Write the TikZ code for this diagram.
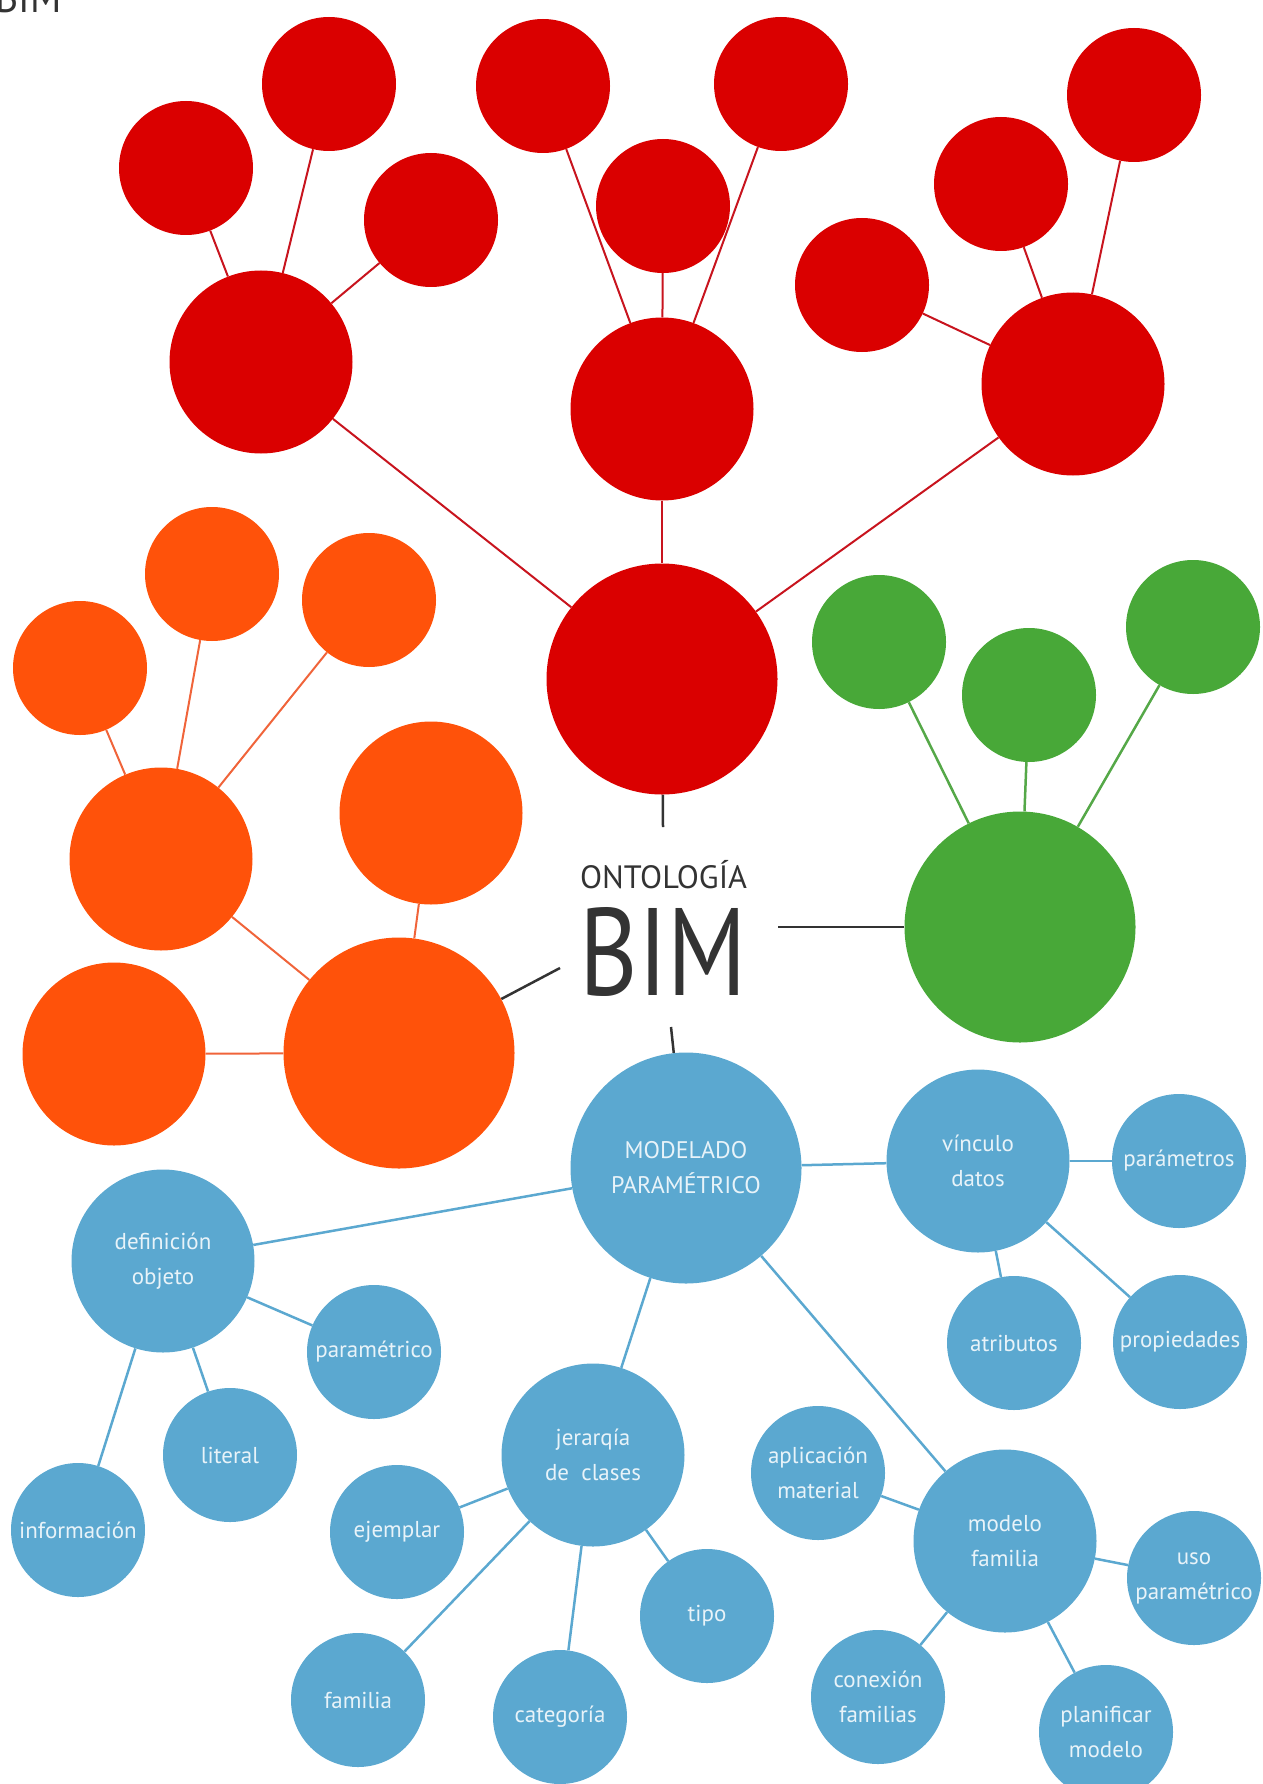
\documentclass[tikz,border=0pt]{standalone}
\usepackage{fontspec}
\setmainfont{PT Sans}
\usetikzlibrary{backgrounds}
\definecolor{rfill}{HTML}{DA0000}
\definecolor{rline}{HTML}{C8141E}
\definecolor{ofill}{HTML}{FF520A}
\definecolor{oline}{HTML}{F0643A}
\definecolor{gfill}{HTML}{48A838}
\definecolor{gline}{HTML}{55A848}
\definecolor{bfill}{HTML}{5BA8D0}
\definecolor{lbltext}{HTML}{E8F3F9}
\definecolor{dark}{HTML}{333333}
\begin{document}
\begin{tikzpicture}[x=1pt,y=-1pt,
  bub/.style={circle,inner sep=0pt,draw=none},
  small/.style={bub,minimum size=134pt},
  big/.style={bub,minimum size=183pt},
  huge/.style={bub,minimum size=231pt},
  red/.style={fill=rfill},
  org/.style={fill=ofill},
  grn/.style={fill=gfill},
  blu/.style={fill=bfill,text=lbltext,align=center,font=\fontsize{23}{35}\selectfont},
  redlink/.style={draw=rline,line width=2pt},
  orglink/.style={draw=oline,line width=2pt},
  grnlink/.style={draw=gline,line width=2.5pt},
  blulink/.style={draw=bfill,line width=2.5pt},
  hub/.style={draw=dark,line width=2.5pt},
  ctext/.style={inner sep=0pt,text=dark}
]
\useasboundingbox (0,0) rectangle (1262,1784);
\begin{scope}
\clip (0,0) rectangle (1262,1784);
\node[ctext,anchor=base east] (corner) at (62,13) {\resizebox{66pt}{31pt}{BIM}};
\end{scope}

% central title
\node[ctext,anchor=base] (onto) at (663.5,888) {\resizebox{167pt}{!}{\fontsize{33}{33}\selectfont ONTOLOG\'IA}};
\node[ctext,anchor=base] (bim) at (663.5,995) {\resizebox{167pt}{88pt}{BIM}};
\coordinate (ctop) at (663,827);
\coordinate (cright) at (778,927);
\coordinate (cleft) at (560,968);
\coordinate (cbot) at (671,1027);

% red
\node[huge,red] (rmain) at (662,679) {};
\node[big,red] (rl) at (261,362) {};
\node[big,red] (rm) at (662,409) {};
\node[big,red] (rr) at (1073,384) {};
\node[small,red] (r1) at (186,168) {};
\node[small,red] (r2) at (329,84) {};
\node[small,red] (r3) at (431,220) {};
\node[small,red] (r4) at (543,86) {};
\node[small,red] (r5) at (663,206) {};
\node[small,red] (r6) at (781,84) {};
\node[small,red] (r7) at (862,285) {};
\node[small,red] (r8) at (1001,184) {};
\node[small,red] (r9) at (1134,95) {};

% orange
\node[huge,org] (omain) at (399,1053) {};
\node[big,org] (ol) at (161,859) {};
\node[big,org] (oo) at (431,813) {};
\node[big,org] (obl) at (114,1054) {};
\node[small,org] (o1) at (80,668) {};
\node[small,org] (o2) at (212,574) {};
\node[small,org] (o3) at (369,600) {};

% green
\node[huge,grn] (gmain) at (1020,927) {};
\node[small,grn] (g1) at (879,642) {};
\node[small,grn] (g2) at (1029,695) {};
\node[small,grn] (g3) at (1193,627) {};

% blue
\node[huge,blu,font=\fontsize{24}{35}\selectfont] (bmain) at (686,1168) {MODELADO\\PARAM\'ETRICO};
\node[big,blu] (vd) at (978,1161) {v\'inculo\\datos};
\node[small,blu] (pm) at (1179,1161) {par\'ametros};
\node[small,blu] (atr) at (1014,1343) {atributos};
\node[small,blu] (pr) at (1180,1342) {propiedades};
\node[big,blu] (def) at (163,1261) {definici\'on\\objeto};
\node[small,blu] (par) at (374,1352) {param\'etrico};
\node[small,blu] (lit) at (230,1455) {literal};
\node[small,blu] (inf) at (78,1530) {informaci\'on};
\node[big,blu] (jer) at (593,1455) {jerarq\'ia\\de\ \ clases};
\node[small,blu] (eje) at (397,1532) {ejemplar};
\node[small,blu] (tipo) at (707,1616) {tipo};
\node[small,blu] (fam) at (358,1700) {familia};
\node[small,blu] (cat) at (560,1717) {categor\'ia};
\node[small,blu] (apl) at (818,1473) {aplicaci\'on\\material};
\node[big,blu] (mf) at (1005,1541) {modelo\\familia};
\node[small,blu] (uso) at (1194,1578) {uso\\param\'etrico};
\node[small,blu] (con) at (878,1697) {conexi\'on\\familias};
\node[small,blu] (plan) at (1106,1732) {planificar\\modelo};

\begin{scope}[on background layer]
\draw[redlink] (r1) -- (rl);
\draw[redlink] (r2) -- (rl);
\draw[redlink] (r3) -- (rl);
\draw[redlink] (r4) -- (rm);
\draw[redlink] (r5) -- (rm);
\draw[redlink] (r6) -- (rm);
\draw[redlink] (r7) -- (rr);
\draw[redlink] (r8) -- (rr);
\draw[redlink] (r9) -- (rr);
\draw[redlink] (rl) -- (rmain);
\draw[redlink] (rm) -- (rmain);
\draw[redlink] (rr) -- (rmain);
\draw[orglink] (o1) -- (ol);
\draw[orglink] (o2) -- (ol);
\draw[orglink] (o3) -- (ol);
\draw[orglink] (ol) -- (omain);
\draw[orglink] (oo) -- (omain);
\draw[orglink] (obl) -- (omain);
\draw[grnlink] (g1) -- (gmain);
\draw[grnlink] (g2) -- (gmain);
\draw[grnlink] (g3) -- (gmain);
\draw[blulink] (bmain) -- (vd);
\draw[blulink] (vd) -- (pm);
\draw[blulink] (vd) -- (atr);
\draw[blulink] (vd) -- (pr);
\draw[blulink] (bmain) -- (def);
\draw[blulink] (def) -- (par);
\draw[blulink] (def) -- (lit);
\draw[blulink] (def) -- (inf);
\draw[blulink] (bmain) -- (jer);
\draw[blulink] (jer) -- (eje);
\draw[blulink] (jer) -- (fam);
\draw[blulink] (jer) -- (cat);
\draw[blulink] (jer) -- (tipo);
\draw[blulink] (bmain) -- (mf);
\draw[blulink] (mf) -- (apl);
\draw[blulink] (mf) -- (uso);
\draw[blulink] (mf) -- (con);
\draw[blulink] (mf) -- (plan);
\draw[hub] (rmain) -- (ctop);
\draw[hub] (gmain) -- (cright);
\draw[hub] (omain) -- (cleft);
\draw[hub] (bmain) -- (cbot);
\end{scope}
\end{tikzpicture}
\end{document}
